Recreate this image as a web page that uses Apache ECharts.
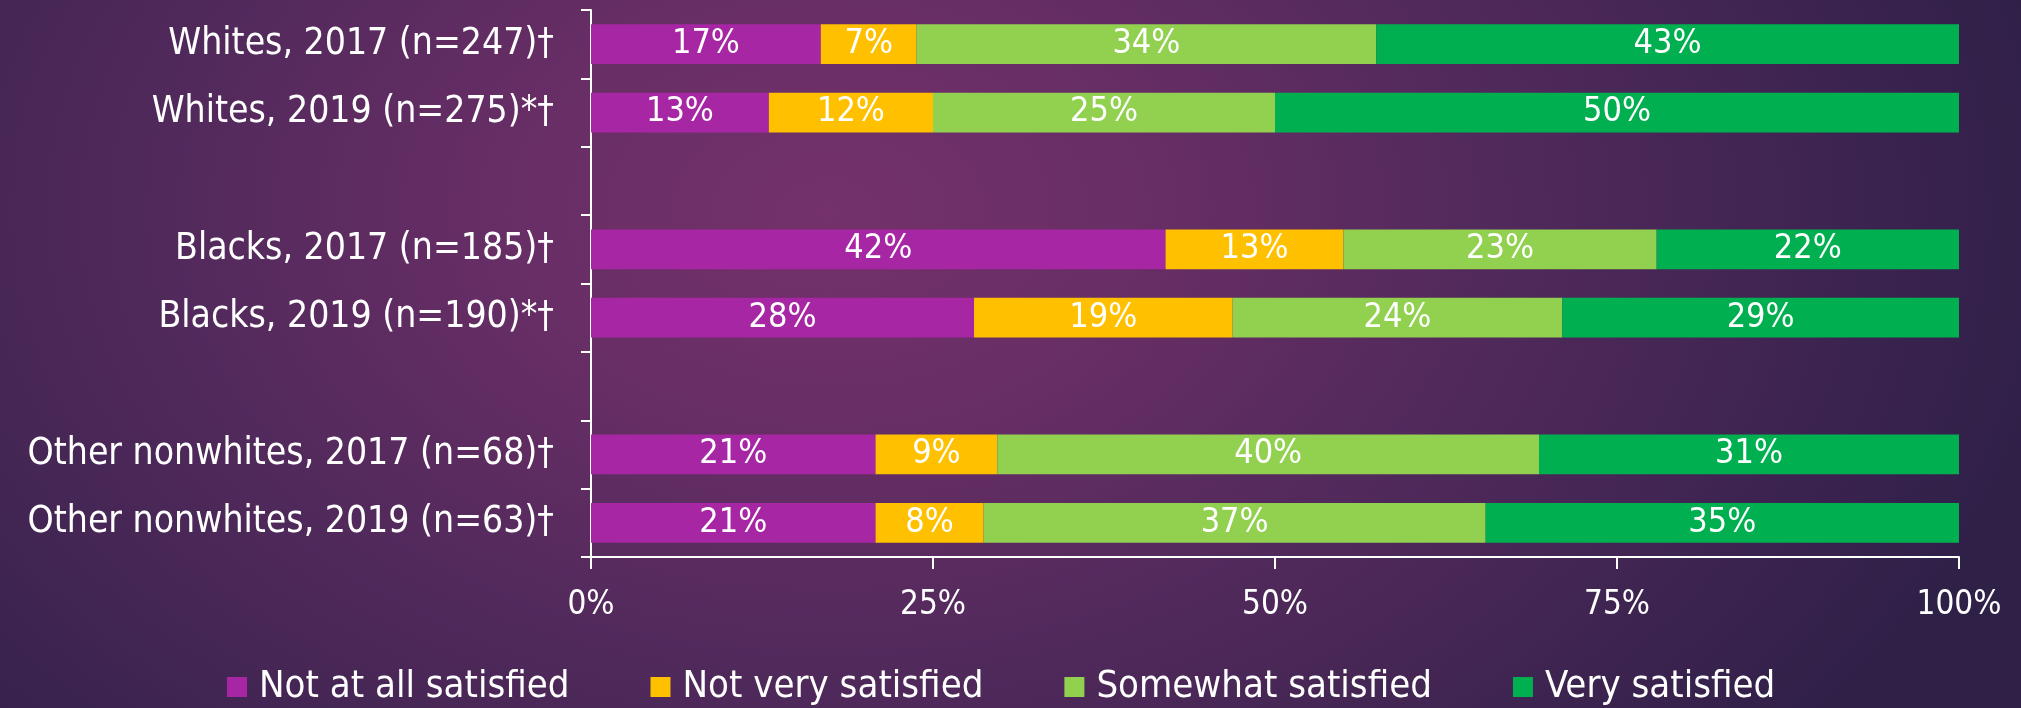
<!DOCTYPE html>
<html>
<head>
<meta charset="utf-8">
<script src="https://cdn.jsdelivr.net/npm/echarts@6/dist/echarts.min.js"></script>
<style>
  html, body { margin: 0; padding: 0; }
  body {
    width: 2021px;
    height: 708px;
    background: radial-gradient(ellipse 62% 120% at 41% 30%, #74316b 0%, #682e66 25%, #50295b 55%, #2f2048 100%);
  }
  #chart { width: 2021px; height: 708px; }
</style>
</head>
<body>
<div id="chart"></div>
<script>
// rows top to bottom, empty strings are the spacer rows
const categories = [
  'Whites, 2017 (n=247)†',
  'Whites, 2019 (n=275)*†',
  '',
  'Blacks, 2017 (n=185)†',
  'Blacks, 2019 (n=190)*†',
  '',
  'Other nonwhites, 2017 (n=68)†',
  'Other nonwhites, 2019 (n=63)†'
];

const notAtAll      = [16.8, 13.0, null, 42.0, 28.0, null, 20.8, 20.8];
const notVery       = [7.0, 12.0, null, 13.0, 18.9, null, 8.9, 7.9];
const somewhat      = [33.6, 25.0, null, 22.9, 24.1, null, 39.6, 36.7];
const verySatisfied = [42.6, 50.0, null, 22.1, 29.0, null, 30.7, 34.6];

const seriesNames = ['Not at all satisfied', 'Not very satisfied', 'Somewhat satisfied', 'Very satisfied'];
const seriesColors = ['#a626a4', '#ffc000', '#92d050', '#00b050'];
const xTicks = [0, 25, 50, 75, 100];

const FONT = "'Liberation Sans Narrow', 'DejaVu Sans Condensed', 'Roboto Condensed', sans-serif";

const chart = echarts.init(document.getElementById('chart'));

const seriesData = [notAtAll, notVery, somewhat, verySatisfied];

const series = seriesData.map((vals, i) => ({
  name: seriesNames[i],
  type: 'bar',
  stack: 'total',
  data: vals,
  barWidth: '58%',
  itemStyle: { color: seriesColors[i] },
  label: {
    show: true,
    position: 'inside',
    color: '#fff',
    fontFamily: FONT,
    fontSize: 34,
    formatter: (p) => p.value == null ? '' : Math.round(p.value) + '%'
  }
}));

const option = {
  backgroundColor: 'transparent',
  animation: false,
  textStyle: { fontFamily: FONT },
  grid: { left: 591, right: 62, top: 10, bottom: 151 },
  xAxis: {
    type: 'value',
    min: xTicks[0],
    max: xTicks[xTicks.length - 1],
    interval: 25,
    axisLine: { show: true, lineStyle: { color: '#fff', width: 2 } },
    axisTick: { show: true, length: 12, lineStyle: { color: '#fff', width: 2 } },
    splitLine: { show: false },
    axisLabel: {
      color: '#fff',
      fontFamily: FONT,
      fontSize: 33,
      margin: 32,
      formatter: '{value}%'
    }
  },
  yAxis: {
    type: 'category',
    inverse: true,
    data: categories,
    axisLine: { show: true, lineStyle: { color: '#fff', width: 2 } },
    axisTick: { show: true, length: 10, lineStyle: { color: '#fff', width: 2 } },
    axisLabel: {
      color: '#fff',
      fontFamily: FONT,
      fontSize: 37,
      margin: 37
    }
  },
  legend: {
    data: seriesNames,
    left: 222,
    top: 663,
    icon: 'rect',
    itemWidth: 20,
    itemHeight: 20,
    itemGap: 81,
    textStyle: {
      color: '#fff',
      fontFamily: FONT,
      fontSize: 38,
      padding: [0, 0, 0, 7]
    }
  },
  series: series
};

chart.setOption(option);
</script>
</body>
</html>
